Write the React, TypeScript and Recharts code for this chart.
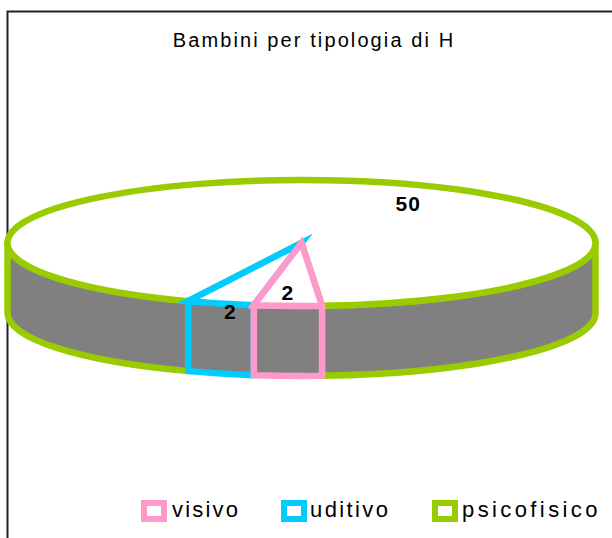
import React from "react";
import { PieChart, Pie, Legend } from "recharts";

const categories = ["psicofisico", "uditivo", "visivo"];
const values = [50, 2, 2];
const colors = ["#99CC00", "#00CCFF", "#FF99CC"];
const table = categories.map((name, i) => ({ name, value: values[i], fill: colors[i] }));

const TILT = 63 / 294;
const DEPTH = 70;
const WALL = "#808080";
const RAD = Math.PI / 180;

const labelNudge: Record<string, [number, number]> = {
  psicofisico: [59, 23],
  uditivo: [10, 8],
  visivo: [0, -13],
};

const legendSlots: Record<string, { box: number; text: number; spacing: number }> = {
  visivo: { box: 141, text: 172, spacing: 2.2 },
  uditivo: { box: 281, text: 310, spacing: 2.4 },
  psicofisico: { box: 432, text: 462, spacing: 3.4 },
};

function rim(cx: number, cy: number, r: number, a: number) {
  return [cx + r * Math.cos(a * RAD), cy - r * TILT * Math.sin(a * RAD)];
}

function wallPath(cx: number, cy: number, r: number, from: number, to: number) {
  const [x0, y0] = rim(cx, cy, r, from);
  const [x1, y1] = rim(cx, cy, r, to);
  const ry = r * TILT;
  return `M${x0},${y0} A${r},${ry} 0 0 1 ${x1},${y1} L${x1},${y1 + DEPTH} A${r},${ry} 0 0 0 ${x0},${y0 + DEPTH} Z`;
}

function EllipticSector(props: any) {
  const { cx, cy, outerRadius: r, startAngle, endAngle, fill } = props;
  // drawn clockwise on screen: hi -> lo angle
  const hi = Math.max(startAngle, endAngle);
  const lo = Math.min(startAngle, endAngle);
  const walls: string[] = [];
  for (const [bandHi, bandLo] of [
    [360, 180],
    [0, -180],
  ]) {
    const a = Math.min(hi, bandHi);
    const b = Math.max(lo, bandLo);
    if (a > b) walls.push(wallPath(cx, cy, r, a, b));
  }
  const [x0, y0] = rim(cx, cy, r, hi);
  const [x1, y1] = rim(cx, cy, r, lo);
  const large = hi - lo > 180 ? 1 : 0;
  const top = `M${cx},${cy} L${x0},${y0} A${r},${r * TILT} 0 ${large} 1 ${x1},${y1} Z`;
  return (
    <g>
      {walls.map((d) => (
        <path key={d} d={d} fill={WALL} stroke={fill} strokeWidth={6.5} strokeLinejoin="round" />
      ))}
      <path d={top} fill="#FFFFFF" stroke={fill} strokeWidth={6.5} strokeLinejoin="miter" strokeMiterlimit={8} />
    </g>
  );
}

function sliceLabel(props: any) {
  const { cx, cy, outerRadius, midAngle, name, value } = props;
  const [x, y] = rim(cx, cy, outerRadius, midAngle);
  const [dx, dy] = labelNudge[name];
  return (
    <text
      x={x + dx}
      y={y + dy}
      textAnchor="middle"
      dominantBaseline="central"
      fontFamily="Liberation Sans"
      fontWeight="bold"
      fontSize={21}
      letterSpacing={1}
      fill="#000"
    >
      {value}
    </text>
  );
}

function LegendBody(props: any) {
  const items = [...(props.payload || [])].reverse();
  return (
    <div style={{ position: "relative", width: 612, height: 538 }}>
      {items.map((it: any) => {
        const slot = legendSlots[it.value];
        return (
          <React.Fragment key={it.value}>
            <div
              style={{
                position: "absolute",
                left: slot.box,
                top: 500,
                width: 14,
                height: 10,
                border: `6px solid ${it.color}`,
              }}
            />
            <div
              style={{
                position: "absolute",
                left: slot.text,
                top: 498,
                fontFamily: "Liberation Sans",
                fontSize: 22,
                lineHeight: "24px",
                letterSpacing: slot.spacing,
                color: "#000",
                whiteSpace: "nowrap",
              }}
            >
              {it.value}
            </div>
          </React.Fragment>
        );
      })}
    </div>
  );
}

export default function App() {
  return (
    <div style={{ position: "absolute", left: 0, top: 0, width: 612, height: 538, overflow: "hidden", background: "#fff" }}>
      <PieChart width={612} height={538} margin={{ top: 0, right: 0, bottom: 0, left: 0 }}>
        <path d="M7.5,538 L7.5,11.5 L612,11.5" fill="none" stroke="#222222" strokeWidth={2} />
        <text
          x={314}
          y={47}
          textAnchor="middle"
          fontFamily="Liberation Sans"
          fontSize={20}
          letterSpacing={2.1}
          fill="#000"
        >
          Bambini per tipologia di H
        </text>
        <Pie
          data={table}
          dataKey="value"
          nameKey="name"
          cx={301.5}
          cy={243}
          innerRadius={0}
          outerRadius={294}
          startAngle={-86}
          endAngle={274}
          paddingAngle={0}
          shape={EllipticSector}
          label={sliceLabel}
          labelLine={false}
          isAnimationActive={false}
        />
        <Legend
          content={LegendBody}
          wrapperStyle={{ position: "absolute", left: 0, top: 0, width: 612, height: 538, pointerEvents: "none" }}
        />
      </PieChart>
    </div>
  );
}
